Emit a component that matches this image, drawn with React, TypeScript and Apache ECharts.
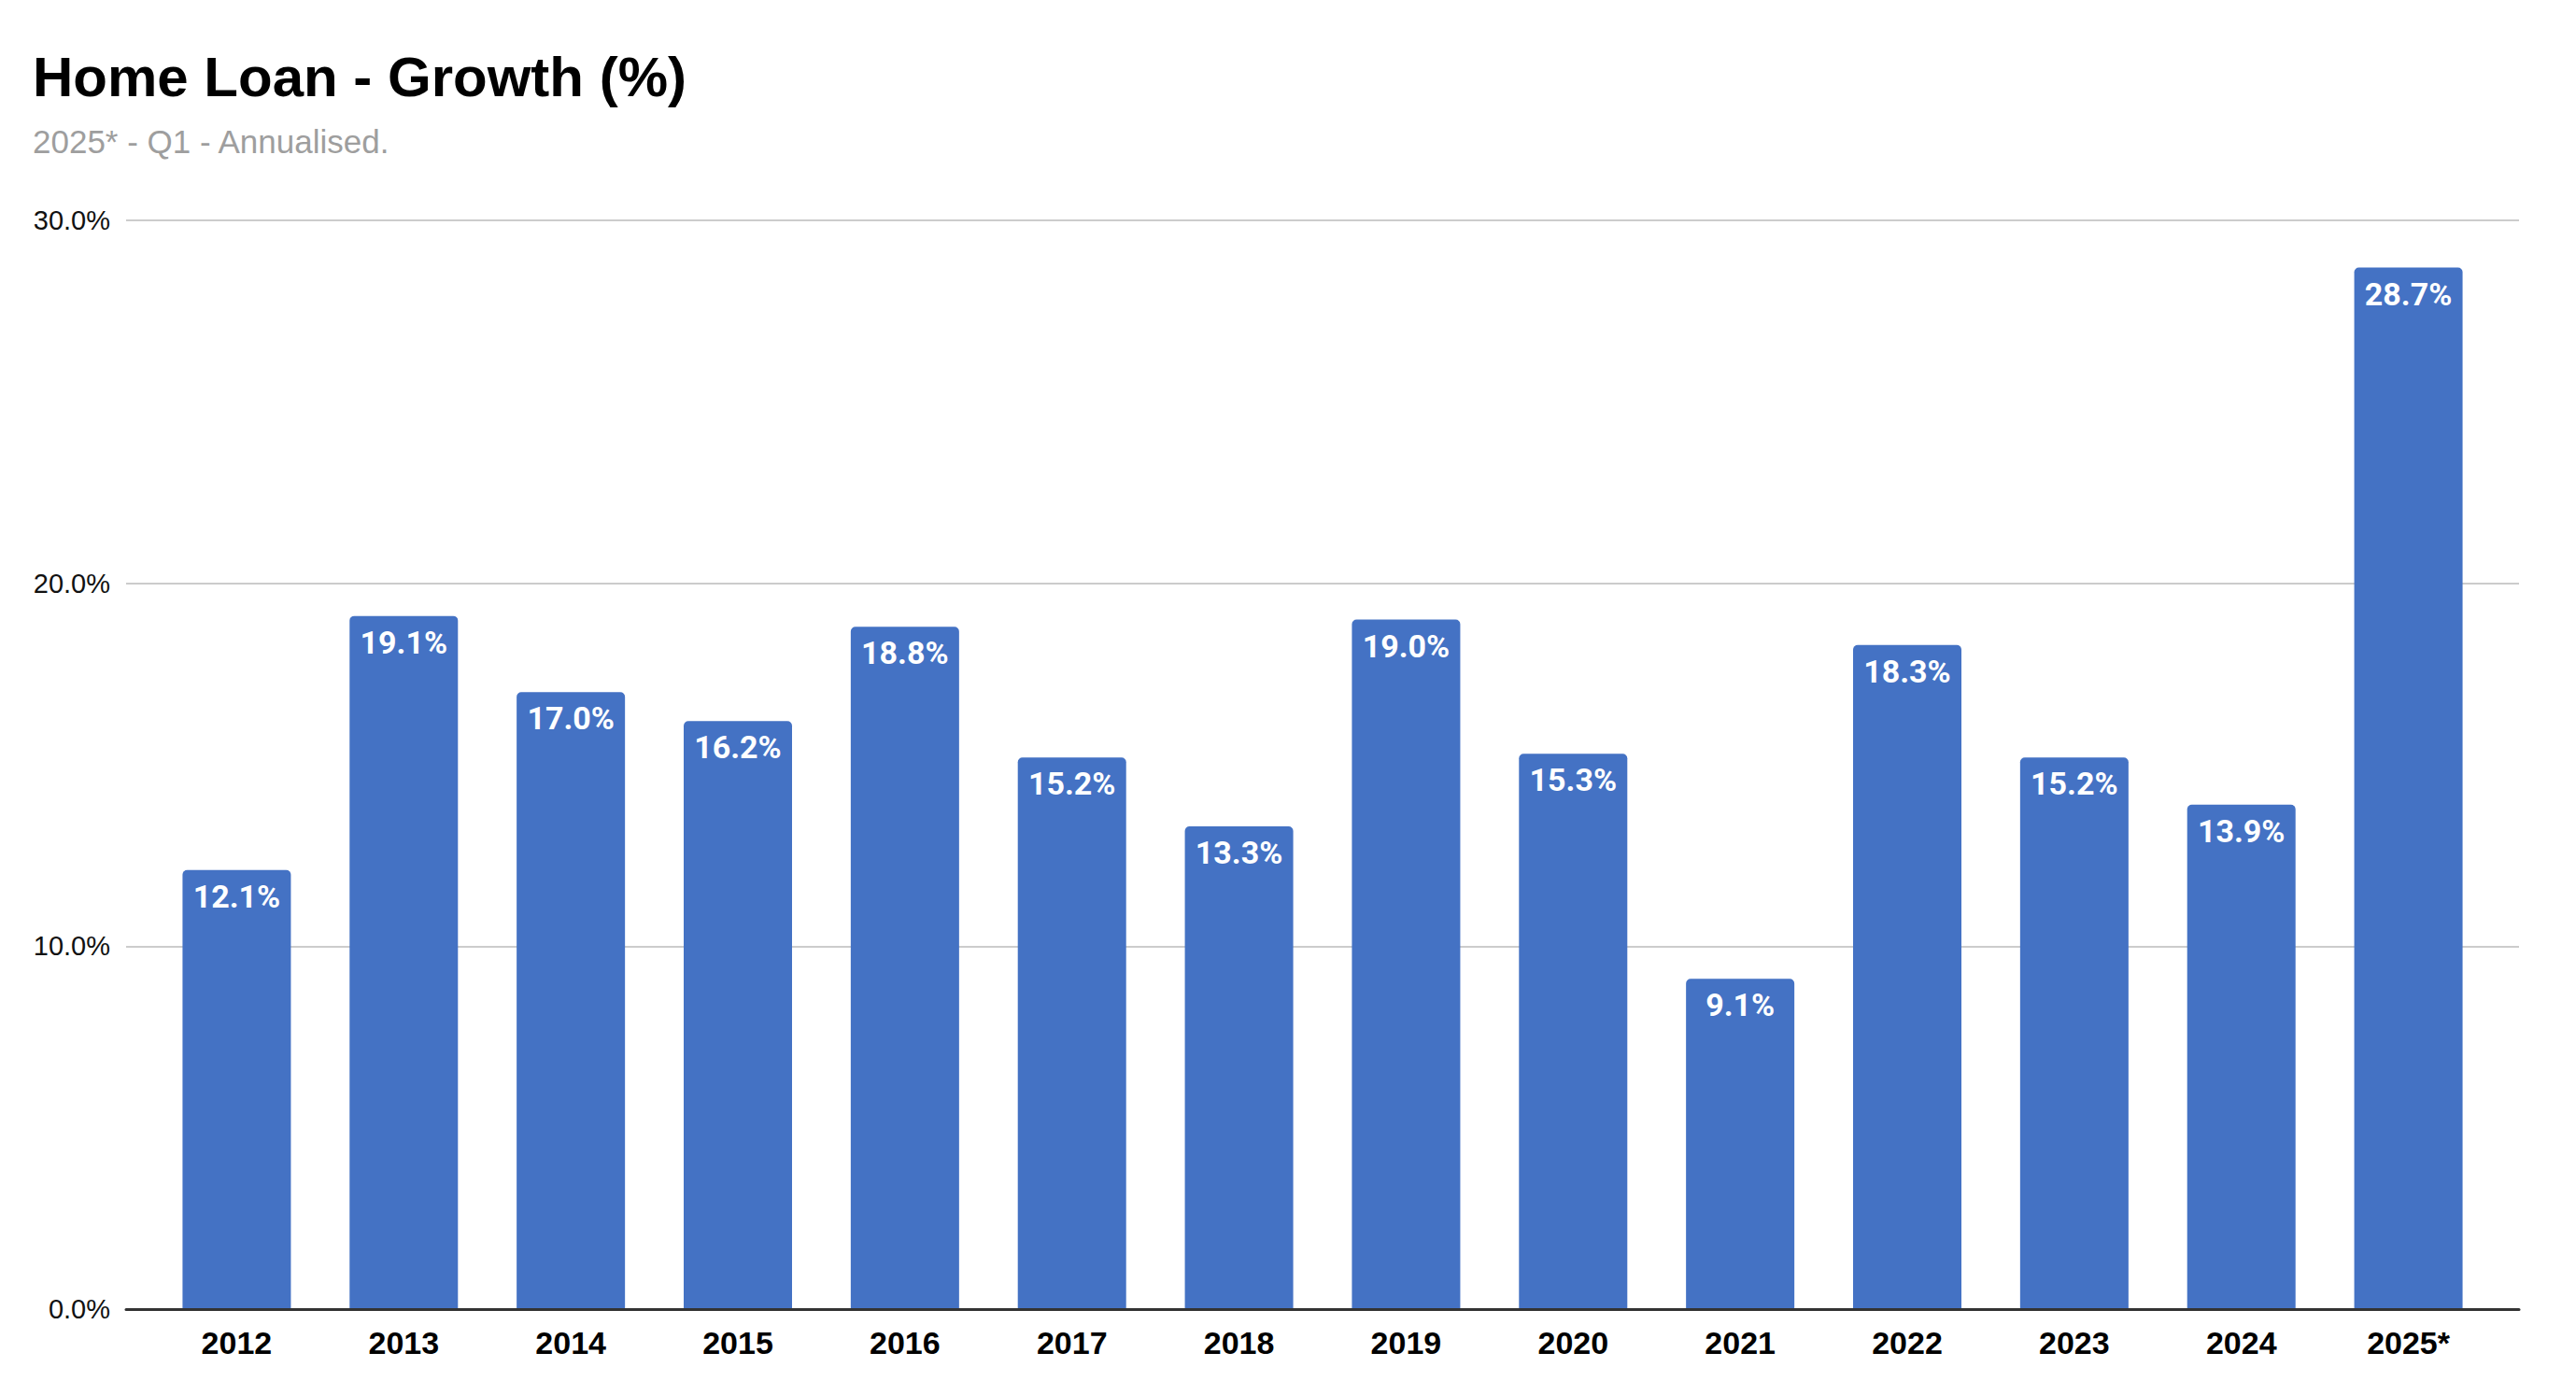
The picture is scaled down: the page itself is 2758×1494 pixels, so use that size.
import React, { useEffect, useRef } from "react";
import * as echarts from "echarts";

const titleText = "Home Loan - Growth (%)";
const subtitleText = "2025* - Q1 - Annualised.";
const years = ["2012", "2013", "2014", "2015", "2016", "2017", "2018", "2019", "2020", "2021", "2022", "2023", "2024", "2025*"];
const growth = [12.1, 19.1, 17.0, 16.2, 18.8, 15.2, 13.3, 19.0, 15.3, 9.1, 18.3, 15.2, 13.9, 28.7];
const yMin = 0;
const yMax = 30;
const yStep = 10;

export default function App() {
  const ref = useRef<HTMLDivElement>(null);
  useEffect(() => {
    if (!ref.current) return;
    const chart = echarts.init(ref.current, null, { renderer: "svg" });
    const fontA = "'Liberation Sans', Arial, Helvetica, sans-serif";
    chart.setOption({
      animation: false,
      backgroundColor: "#ffffff",
      graphic: [
        {
          type: "text",
          left: 35,
          top: 52,
          style: {
            text: titleText,
            fontFamily: fontA,
            fontWeight: "bold",
            fontSize: 60,
            fill: "#000000",
          },
        },
        {
          type: "text",
          left: 35,
          top: 134,
          style: {
            text: subtitleText,
            fontFamily: fontA,
            fontSize: 35,
            fill: "#9e9e9e",
          },
        },
      ],
      grid: [
        { left: 135, right: 61, top: 236, bottom: 92 },
        { left: 164, right: 90, top: 236, bottom: 92 },
      ],
      xAxis: [
        {
          gridIndex: 0,
          type: "category",
          data: years,
          axisLine: { show: true, lineStyle: { color: "#333333", width: 3 } },
          axisTick: { show: false },
          axisLabel: { show: false },
          splitLine: { show: false },
          z: 10,
        },
        {
          gridIndex: 1,
          type: "category",
          data: years,
          axisLine: { show: false },
          axisTick: { show: false },
          axisLabel: {
            show: true,
            fontFamily: fontA,
            fontWeight: "bold",
            fontSize: 34,
            color: "#000000",
            margin: 19,
          },
        },
      ],
      yAxis: [
        {
          gridIndex: 0,
          type: "value",
          min: yMin,
          max: yMax,
          interval: yStep,
          axisLine: { show: false },
          axisTick: { show: false },
          axisLabel: {
            fontFamily: fontA,
            fontSize: 29,
            color: "#111111",
            margin: 17,
            formatter: (v: number) => v.toFixed(1) + "%",
          },
          splitLine: { show: true, lineStyle: { color: "#cccccc", width: 2 } },
        },
        {
          gridIndex: 1,
          type: "value",
          min: yMin,
          max: yMax,
          interval: yStep,
          show: false,
          splitLine: { show: false },
        },
      ],
      series: [
        {
          type: "bar",
          xAxisIndex: 1,
          yAxisIndex: 1,
          data: growth,
          barWidth: 116,
          itemStyle: { color: "#4472C4", borderRadius: [5, 5, 0, 0] },
          label: {
            show: true,
            position: "insideTop",
            distance: 11,
            fontFamily: "Roboto, 'Liberation Sans', Arial, sans-serif",
            fontWeight: "bold",
            fontSize: 34,
            color: "#ffffff",
            formatter: (p: any) => Number(p.value).toFixed(1) + "%",
          },
        },
      ],
    });
    return () => chart.dispose();
  }, []);
  return (
    <div
      ref={ref}
      style={{ position: "fixed", left: 0, top: 0, width: 2758, height: 1494 }}
    />
  );
}
